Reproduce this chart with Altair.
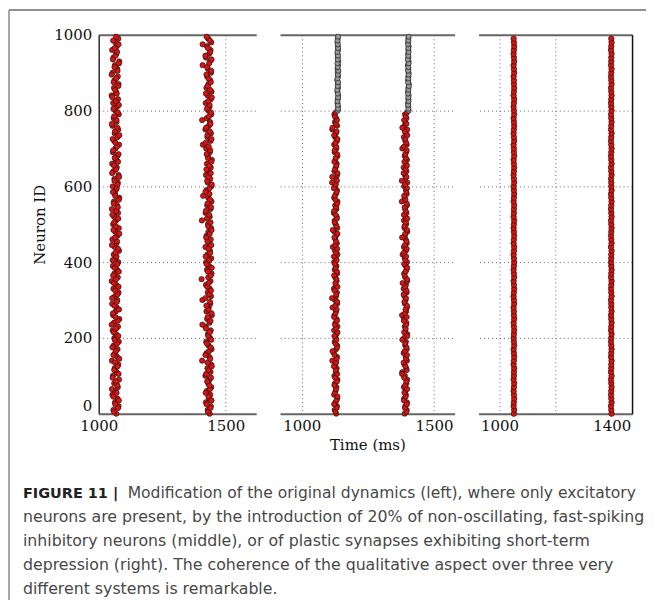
import altair as alt
import pandas as pd

# ---------------- data ----------------
ids_a = list(range(0, 1000, 10))     # neuron IDs 0, 10, ..., 990
ids_b = list(range(5, 1000, 10))     # neuron IDs 5, 15, ..., 995

# left panel: burst centres (ms) and per-neuron offsets (ms)
left_centres = [1066, 1432]
left_off_a1 = [3, -8, 12, -2, 7, -12, 0, 9, -5, 14, -10, 4, -3, 11, -14, 6, -1, 8, -7, 13,
               -4, 2, -11, 10, -6, 15, -9, 1, 5, -13, 7, -2, 12, -8, 3, -15, 9, -4, 6, -10,
               11, 0, -7, 14, -3, 4, -12, 8, -1, 13, -9, 2, -5, 10, -14, 6, -6, 15, -2, 1,
               -11, 9, -4, 12, -8, 5, -13, 3, 7, -10, 0, 14, -5, 8, -3, 11, -12, 4, -7, 13,
               -1, 6, -9, 10, -15, 2, -6, 12, -4, 9, -11, 7, -2, 15, -8, 3, -13, 5, 0, 11]
left_off_a2 = [-6, 10, -1, 13, -9, 4, -14, 7, 2, -11, 12, -5, 8, -2, 15, -8, 1, -12, 6, -3,
               11, -7, 3, -15, 9, 0, -10, 14, -4, 5, -13, 8, -1, 12, -6, 2, -9, 13, -3, 7,
               -11, 4, 0, 10, -14, 6, -2, 15, -8, 1, -5, 11, -12, 3, 9, -7, 13, -1, -10, 5,
               8, -4, 14, -13, 2, -6, 10, -3, 12, -9, 6, 0, -11, 15, -2, 7, -14, 4, -5, 9,
               -8, 13, 1, -12, 5, -1, 11, -7, 3, -15, 8, -4, 14, -10, 0, 6, -3, 12, -9, 2]
left_off_b1 = [5, -3, 9, -10, 2, 7, -6, 11, -1, 4, -12, 8, -4, 10, -25, 3, -7, 12, 0, -9,
               6, -2, 9, -11, 4, -5, 13, -8, 1, 7, -24, 10, -3, 5, -10, 8, -1, 12, -6, 2,
               -9, 11, -4, 6, -12, 3, 9, -7, 0, 10, -2, -26, 5, -11, 8, -5, 12, -1, 4, -8,
               11, -3, 7, -10, 1, 9, -6, 13, -2, 5, -9, -22, 8, -4, 10, -12, 2, 6, -7, 11,
               -1, 4, -11, 9, -3, 12, -8, 0, 7, -5, 10, -2, -23, 6, -10, 3, 8, -6, 11, -1]
left_off_b2 = [-2, 8, -7, 12, 0, -11, 6, 3, -5, 10, -9, 1, 13, -4, 7, -12, 2, 9, -6, 11,
               -1, 5, -10, -24, 8, -3, 12, 0, -8, 6, -12, 4, 10, -5, 1, -27, 9, -2, 13, -7,
               3, -11, 7, 0, 11, -4, -9, 5, 12, -1, 8, -6, 2, -10, 10, -3, 6, -21, -12, 4,
               13, -5, 0, 9, -8, 3, 11, -2, -7, 7, 1, -11, 12, -4, 5, -9, 8, -25, 2, 10,
               -6, 4, -1, 13, -10, 6, -3, 9, 0, -8, 11, -5, 3, 12, -12, 7, -2, -23, 5, -7]

# middle panel: excitatory 0..799 (red), inhibitory 800..999 (grey)
mid_centres_exc = [1128, 1392]
mid_centres_inh = [1136, 1403]
mid_off_a1 = [2, -4, 5, -1, 6, -6, 0, 3, -3, 7, -5, 1, 4, -2, -13, 5, -7, 2, 6, -4,
              0, 3, -6, 7, -1, 4, -5, 1, -12, 6, -3, 2, 5, -7, 0, 4, -2, 6, -4, 3,
              -6, 1, 7, -3, -11, 5, -1, 2, -5, 6, 0, -4, 4, -7, 3, -2, 7, -6, 1, 5,
              -3, -14, 2, 6, -5, 0, 4, -1, 7, -4, 3, -6, 5, -2, 1, -13, 6, -3, 2, -5]
mid_off_a2 = [-1, 4, -6, 3, 7, -3, 1, -5, 5, -2, 6, 0, -7, 2, 4, -4, -12, 6, -1, 3,
              -5, 7, 1, -3, 5, -6, 0, 4, -2, 6, -14, 2, -4, 7, -1, 3, -6, 5, 0, -3,
              4, -7, 2, 6, -2, 1, -5, 7, -11, 3, -4, 5, 0, -6, 2, 6, -1, -3, 4, -7,
              1, 5, -13, 7, -2, 3, -5, 0, 6, -4, 2, -1, 7, -6, 4, -12, 1, 5, -3, 0]
mid_off_b1 = [-3, 5, -1, 6, -5, 2, 0, -6, 4, 7, -2, -12, 3, -4, 6, 1, -7, 5, -1, 2,
              -5, 7, 0, -3, 4, -6, -13, 3, 6, -2, 1, -4, 5, -7, 2, 7, -1, -5, 4, 0,
              6, -3, -11, 2, -6, 5, 1, -2, 7, -4, 3, -6, 0, 4, -1, 6, -14, -3, 5, 2,
              -5, 7, 0, -2, 4, -7, 1, 6, -3, 3, -12, 5, -1, -6, 2, 7, -4, 0, 4, -2]
mid_off_b2 = [4, -2, 6, -6, 1, -4, 7, -1, 3, -5, -13, 5, 0, -7, 2, 6, -3, 4, -1, -12,
              7, -5, 1, 3, -6, 5, -2, 0, 6, -4, 2, -7, 4, -1, -11, 6, -3, 1, 7, -5,
              0, 3, -6, 5, -2, 4, -13, -1, 6, -4, 2, 7, -6, 1, -3, 5, 0, -5, 3, 6,
              -2, -14, 4, -7, 1, 6, -4, 2, -1, 5, -6, 3, 0, 7, -3, -12, 4, -5, 1, 6]
mid_inh_off_a1 = [0, 1, -1, 0, 2, -1, 1, 0, -2, 1, 0, -1, 1, 2, 0, -1, 1, 0, -1, 0]
mid_inh_off_a2 = [1, 0, -1, 1, 0, -2, 0, 1, -1, 0, 2, 0, -1, 0, 1, -1, 1, 0, -1, 1]
mid_inh_off_b1 = [1, 0, -1, 0, 1, -1, 0, 2, -1, 0, 1, 0, -2, 1, 0, -1, 0, 1, -1, 0]
mid_inh_off_b2 = [0, -1, 1, 0, -1, 0, 2, -1, 0, 1, -1, 0, 1, -2, 0, 1, 0, -1, 0, 1]

# right panel
right_centres = [1051, 1398]
right_off_a = [0, 1, -1, 0, 1, 0, -1, 0, 1, -1, 0, 0, 1, -1, 0, 1, 0, -1, 1, 0,
               -1, 0, 1, 0, -1, 1, 0, 0, -1, 1, 0, -1, 0, 1, 0, -1, 1, 0, -1, 0,
               1, 0, -1, 0, 1, -1, 0, 1, 0, -1, 0, 1, -1, 0, 0, 1, -1, 0, 1, 0,
               -1, 1, 0, -1, 0, 1, 0, -1, 1, 0, 0, -1, 1, 0, -1, 0, 1, 0, -1, 1,
               0, -1, 0, 1, -1, 0, 1, 0, 0, -1, 1, 0, -1, 1, 0, -1, 0, 1, 0, -1]
right_off_b = [1, 0, -1, 1, 0, -1, 0, 1, 0, -1, 1, -1, 0, 0, 1, -1, 0, 1, 0, -1,
               0, 1, -1, 0, 1, 0, -1, 1, 0, 0, -1, 1, 0, -1, 0, 1, -1, 0, 1, 0,
               -1, 0, 0, 1, -1, 1, 0, -1, 0, 1, 0, -1, 1, 0, -1, 0, 1, 0, -1, 1,
               0, 0, -1, 1, 0, -1, 1, 0, -1, 0, 1, 0, -1, 0, 1, -1, 0, 1, 0, -1,
               1, 0, -1, 0, 1, 0, -1, 1, 0, -1, 0, 1, -1, 0, 0, 1, -1, 0, 1, 0]

y_ticks = [0, 200, 400, 600, 800, 1000]
left_xticks = [1000, 1500]
mid_xticks = [1000, 1500]
right_xticks = [1000, 1200, 1400]
right_xlabels = [1000, 1400]

caption_bold = "FIGURE 11 |"
caption_line1 = "Modification of the original dynamics (left), where only excitatory"
caption_rest = [
    "neurons are present, by the introduction of 20% of non-oscillating, fast-spiking",
    "inhibitory neurons (middle), or of plastic synapses exhibiting short-term",
    "depression (right). The coherence of the qualitative aspect over three very",
    "different systems is remarkable.",
]

# ---------------- tables ----------------
def rows(centre, offs, ids, kind):
    return pd.DataFrame({"time": [centre + o for o in offs], "neuron": ids[:len(offs)], "kind": kind})

df_left = pd.concat([rows(left_centres[0], left_off_a1, ids_a, "exc"),
                     rows(left_centres[0], left_off_a2, ids_b, "exc"),
                     rows(left_centres[1], left_off_b1, ids_a, "exc"),
                     rows(left_centres[1], left_off_b2, ids_b, "exc")])
df_mid = pd.concat([rows(mid_centres_exc[0], mid_off_a1, ids_a, "exc"),
                    rows(mid_centres_exc[0], mid_off_a2, ids_b, "exc"),
                    rows(mid_centres_exc[1], mid_off_b1, ids_a, "exc"),
                    rows(mid_centres_exc[1], mid_off_b2, ids_b, "exc"),
                    rows(mid_centres_inh[0], mid_inh_off_a1, ids_a[80:], "inh"),
                    rows(mid_centres_inh[0], mid_inh_off_a2, ids_b[80:], "inh"),
                    rows(mid_centres_inh[1], mid_inh_off_b1, ids_a[80:], "inh"),
                    rows(mid_centres_inh[1], mid_inh_off_b2, ids_b[80:], "inh")])
df_right = pd.concat([rows(right_centres[0], right_off_a, ids_a, "exc"),
                      rows(right_centres[1], right_off_b, ids_a, "exc")])

SERIF = "DejaVu Serif"
GRID = "#666666"
H = 380
fill_scale = alt.Scale(domain=["exc", "inh"], range=["#e0100e", "#9a9a9a"])


def panel(df, domain, width, xticks, xtitle, yaxis, size, label_expr=None):
    ax_kw = dict(values=xticks, grid=True, ticks=False, labelFlush=False, labelOverlap=False,
                 domainColor="#666666", domainWidth=2, labelPadding=5, titlePadding=4,
                 format="d", title=xtitle)
    if label_expr:
        ax_kw["labelExpr"] = label_expr
    xscale = alt.Scale(domain=domain, nice=False, zero=False)
    pts = alt.Chart(df).mark_point(
        shape="circle", filled=True, size=size, stroke="#1a1a1a", strokeWidth=0.7, opacity=1
    ).encode(
        x=alt.X("time:Q", scale=xscale, axis=alt.Axis(**ax_kw)),
        y=alt.Y("neuron:Q", scale=alt.Scale(domain=[0, 1000], nice=False), axis=yaxis),
        fill=alt.Fill("kind:N", scale=fill_scale, legend=None),
    )
    top = alt.Chart(df).mark_point(opacity=0).encode(
        x=alt.X("time:Q", scale=xscale,
                axis=alt.Axis(orient="top", labels=False, ticks=False, grid=False,
                              domainColor="#666666", domainWidth=2, title=None)),
    )
    return alt.layer(pts, top).resolve_axis(x="independent").properties(width=width, height=H)


yaxis_left = alt.Axis(values=y_ticks, grid=True, ticks=False, labelPadding=7, titlePadding=6,
                      domainColor="#333333", domainWidth=1.5, title="Neuron ID", format="d",
                      labelFlush=False, labelOverlap=False,
                      labelBaseline={"condition": {"test": "datum.value == 0", "value": "bottom"},
                                     "value": "middle"})
yaxis_mid = alt.Axis(values=y_ticks, grid=True, ticks=False, labels=False, domain=False, title=None)
yaxis_right = alt.Axis(values=y_ticks, grid=True, ticks=False, labels=False, orient="right",
                       domainColor="#111111", domainWidth=1.5, title=None)

p1 = panel(df_left, [1000, 1620], 158, left_xticks, None, yaxis_left, 28)
p2 = panel(df_mid, [918, 1578], 175, mid_xticks, "Time (ms)", yaxis_mid, 26)
p3 = panel(df_right, [925, 1472], 154, right_xticks, None, yaxis_right, 30,
           label_expr="indexof(" + str(right_xlabels) + ", datum.value) >= 0 ? datum.label : ''")

# ---------------- caption & frame (pixel offsets relative to left panel) ----------------
one = pd.DataFrame({"k": [0]})
FX, FY = -90, -25
frame_top = alt.Chart(one).mark_rule(color="#6b6b6b", strokeWidth=1.5).encode(
    x=alt.value(FX), x2=alt.value(549), y=alt.value(FY))
frame_left = alt.Chart(one).mark_rule(color="#8a8a8a", strokeWidth=1.5).encode(
    x=alt.value(FX), y=alt.value(FY), y2=alt.value(567))
cap_font = "DejaVu Sans"
cap_bold = alt.Chart(one).mark_text(
    align="left", baseline="alphabetic", font=cap_font, fontSize=14.5, fontWeight="bold", color="#222222"
).encode(x=alt.value(-76), y=alt.value(465), text=alt.value(caption_bold))
cap_l1 = alt.Chart(one).mark_text(
    align="left", baseline="alphabetic", font=cap_font, fontSize=15.6, color="#474747"
).encode(x=alt.value(29), y=alt.value(465), text=alt.value(caption_line1))
cap_rest = alt.Chart(one).mark_text(
    align="left", baseline="alphabetic", font=cap_font, fontSize=15.8, color="#474747", lineHeight=24
).encode(x=alt.value(-76), y=alt.value(489), text=alt.value(caption_rest))

p1_full = alt.layer(p1, frame_top, frame_left, cap_bold, cap_l1, cap_rest)

chart = alt.hconcat(p1_full, p2, p3, spacing=24, bounds="flush").properties(
    padding=0
).configure_view(stroke=None).configure_axis(
    labelFont=SERIF, labelFontSize=15, labelColor="#111111",
    titleFont=SERIF, titleFontSize=15, titleFontWeight="normal", titleColor="#111111",
    gridColor=GRID, gridDash=[1, 3], gridWidth=1, gridOpacity=1,
)

chart.save("out.html", embed_options={"renderer": "svg", "actions": False})
